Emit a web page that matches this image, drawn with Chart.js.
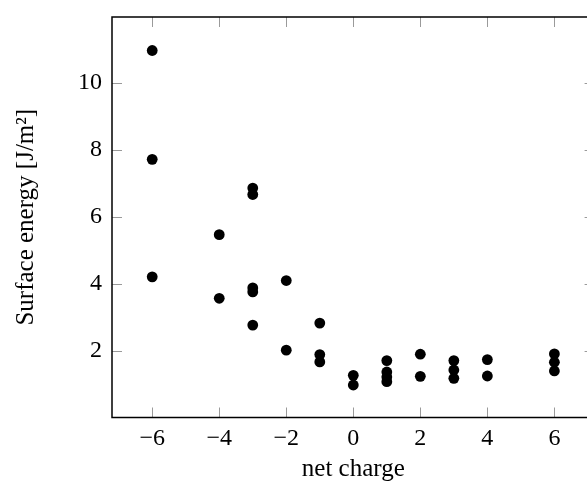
<!DOCTYPE html>
<html>
<head>
<meta charset="utf-8">
<script src="https://cdn.jsdelivr.net/npm/chart.js@4/dist/chart.umd.min.js"></script>
<style>
    html, body { margin: 0; padding: 0; background: #fff; overflow: hidden; }
    #wrap { position: absolute; left: 0; top: 0; width: 600px; height: 484px; }
</style>
</head>
<body>
<div id="wrap"><canvas id="grafico" width="600" height="484"></canvas></div>
<script>
// Dados
const netCharge = [-6, -6, -6, -4, -4, -3, -3, -3, -3, -3, -2, -2, -1, -1, -1, 0, 0,
    1, 1, 1, 1, 2, 2, 3, 3, 3, 4, 4, 6, 6, 6];
const surfaceEnergy = [10.96, 7.71, 4.20, 5.46, 3.56, 6.85, 6.66, 3.87, 3.75, 2.76, 4.09, 2.01,
    2.82, 1.88, 1.66, 1.26, 0.97, 1.70, 1.36, 1.21, 1.07, 1.89, 1.23, 1.70, 1.42, 1.17,
    1.73, 1.24, 1.90, 1.65, 1.39];
const xTicks = [-6, -4, -2, 0, 2, 4, 6];
const yTicks = [2, 4, 6, 8, 10];

const FONTE = 'Liberation Serif, Times New Roman, serif';

// Moldura e marcas de escala para dentro (estilo pgfplots)
const molduraPlugin = {
    id: 'moldura',
    afterDatasetsDraw(chart) {
        const { ctx, chartArea: a, scales } = chart;
        ctx.save();
        ctx.strokeStyle = '#9a9a9a';
        ctx.lineWidth = 1;
        ctx.beginPath();
        xTicks.forEach(v => {
            const px = Math.round(scales.x.getPixelForValue(v)) + 0.5;
            ctx.moveTo(px, a.bottom); ctx.lineTo(px, a.bottom - 10);
            ctx.moveTo(px, a.top); ctx.lineTo(px, a.top + 10);
        });
        yTicks.forEach(v => {
            const py = Math.round(scales.y.getPixelForValue(v)) + 0.5;
            ctx.moveTo(a.left, py); ctx.lineTo(a.left + 10, py);
            ctx.moveTo(a.right, py); ctx.lineTo(a.right - 10, py);
        });
        ctx.stroke();
        ctx.strokeStyle = '#000';
        ctx.lineWidth = 1.5;
        ctx.strokeRect(a.left, a.top, a.right - a.left, a.bottom - a.top);
        ctx.restore();
    }
};

const pontos = netCharge.map((x, i) => ({ x: x, y: surfaceEnergy[i] }));

new Chart(document.getElementById('grafico').getContext('2d'), {
    type: 'scatter',
    data: {
        datasets: [{
            data: pontos,
            backgroundColor: '#000',
            borderWidth: 0,
            pointRadius: 5.4,
            pointHoverRadius: 5.4
        }]
    },
    options: {
        responsive: false,
        animation: false,
        layout: { padding: { left: 0, top: 17, right: 5, bottom: 0 } },
        plugins: {
            legend: { display: false },
            tooltip: { enabled: false }
        },
        scales: {
            x: {
                type: 'linear',
                min: -7.2,
                max: 7.2,
                afterBuildTicks: s => { s.ticks = xTicks.map(v => ({ value: v })); },
                afterFit: s => { s.height = 66.5; s.paddingLeft = 0; s.paddingRight = 0; },
                grid: { display: false, drawTicks: false },
                border: { display: false },
                ticks: {
                    padding: 7,
                    color: '#000',
                    font: { family: FONTE, size: 24 },
                    callback: v => String(v).replace('-', '\u2212')
                },
                title: {
                    display: true,
                    text: 'net charge',
                    color: '#000',
                    font: { family: FONTE, size: 25 },
                    padding: { top: 0, bottom: 0 }
                }
            },
            y: {
                type: 'linear',
                min: 0,
                max: 11.96,
                afterBuildTicks: s => { s.ticks = yTicks.map(v => ({ value: v })); },
                afterFit: s => { s.width = 112; s.paddingTop = 0; s.paddingBottom = 0; },
                grid: { display: false, drawTicks: false },
                border: { display: false },
                ticks: {
                    padding: 10,
                    color: '#000',
                    font: { family: FONTE, size: 24 }
                },
                title: {
                    display: true,
                    text: 'Surface energy [J/m\u00b2]',
                    color: '#000',
                    font: { family: FONTE, size: 25 },
                    padding: { top: 11, bottom: 0 }
                }
            }
        }
    },
    plugins: [molduraPlugin]
});
</script>
</body>
</html>
